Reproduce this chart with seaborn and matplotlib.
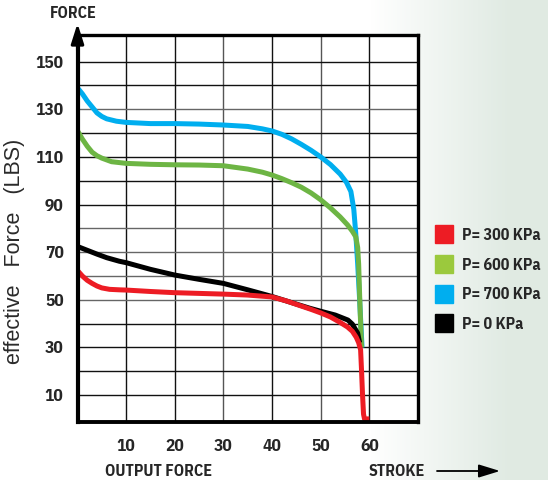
import numpy as np
import pandas as pd
import matplotlib
matplotlib.use("Agg")
import matplotlib.pyplot as plt
import seaborn as sns
from matplotlib.lines import Line2D

# ---------------- data ----------------
series_labels = ["P= 300 KPa", "P= 600 KPa", "P= 700 KPa", "P= 0 KPa"]
x_tick_values = [10, 20, 30, 40, 50, 60]
y_tick_values = [10, 30, 50, 70, 90, 110, 130, 150]

blue_x = [0, 1, 2, 3, 4, 5, 6, 8, 10, 15, 20, 25, 30, 35, 38, 40, 42, 44, 46, 48, 50, 52, 54, 55.3, 56.2, 56.8, 57.2, 57.6, 58.0, 58.3, 58.5]
blue_y = [139, 136.5, 133.5, 131, 128.5, 127, 126, 125, 124.5, 124, 124, 123.8, 123.4, 122.8, 121.8, 120.9, 119.5, 117.6, 115.3, 112.8, 110, 106.8, 102.8, 99.3, 95.5, 88, 78, 65, 50, 38, 30]

green_x = [0, 1, 2, 3, 4, 5, 7, 10, 15, 20, 25, 30, 35, 38, 40, 42, 44, 46, 48, 50, 52, 54, 55.5, 56.5, 57.2, 57.6, 57.8, 58.0, 58.2, 58.4]
green_y = [121, 117.5, 114.5, 112, 110.5, 109.5, 108, 107.3, 106.9, 106.7, 106.6, 106.3, 104.9, 103.6, 102.4, 100.9, 99.2, 97.3, 94.9, 92, 88.6, 84.8, 81.5, 78.8, 76.5, 72, 65, 52, 40, 30]

red_x = [0, 1, 2, 3, 4, 5, 6.6, 8.6, 10, 15, 20, 25, 30, 35, 40, 43, 45.7, 48, 50, 52, 54, 55.5, 56.5, 57.3, 57.8, 58.2, 58.4, 58.6, 58.8, 59.0, 60.0]
red_y = [62.3, 60, 58.2, 56.9, 55.8, 55, 54.4, 54.2, 54.1, 53.5, 53, 52.7, 52.4, 52, 51.2, 49.5, 47.6, 46, 44.5, 42.8, 40.5, 38.6, 36.8, 34.3, 32, 29, 20, 10, 2, 0, 0]

black_x = [0, 2, 4, 6, 8.6, 10, 15, 20, 25, 30, 35, 40, 45, 47.7, 50, 53, 55.6, 56.5, 57.6, 58.0]
black_y = [72.4, 70.8, 69.2, 67.7, 66.2, 65.6, 62.8, 60.4, 58.6, 56.9, 54.2, 51.4, 48.2, 46.5, 45.2, 43.6, 41.5, 39.8, 36, 32]

line_colors = {"P= 300 KPa": "#ED1C24", "P= 600 KPa": "#6DB544",
               "P= 700 KPa": "#00AEEF", "P= 0 KPa": "#000000"}
legend_colors = {"P= 300 KPa": "#ED1C24", "P= 600 KPa": "#9BC93D",
                 "P= 700 KPa": "#00AEEF", "P= 0 KPa": "#000000"}

# ---------------- style ----------------
sns.set_style("white")
COND = ["IBM Plex Sans Condensed", "Liberation Sans", "DejaVu Sans"]
plt.rcParams["font.family"] = COND

fig = plt.figure(figsize=(5.48, 4.80), dpi=100)

# background gradient (right side light greenish-grey)
bg = fig.add_axes([0, 0, 1, 1], zorder=-10)
w = 548
cols = np.ones((1, w, 3))
start = 370
for i in range(start, w):
    t = (i - start) / (w - start)
    c0 = np.array([1.0, 1.0, 1.0])
    c1 = np.array([0.88, 0.92, 0.89])
    cols[0, i] = c0 + (c1 - c0) * min(1.0, t * 1.3)
bg.imshow(cols, aspect="auto", extent=[0, 1, 0, 1])
bg.set_axis_off()

ax = fig.add_axes([77.5 / 548, 58 / 480, 340.5 / 548, 387 / 480], zorder=1)
ax.set_facecolor("white")

frames = {
    "P= 700 KPa": (blue_x, blue_y),
    "P= 600 KPa": (green_x, green_y),
    "P= 0 KPa": (black_x, black_y),
    "P= 300 KPa": (red_x, red_y),
}
for z, (lab, (xs, ys)) in enumerate(frames.items()):
    df = pd.DataFrame({"stroke": xs, "force": ys})
    sns.lineplot(data=df, x="stroke", y="force", ax=ax, sort=False, estimator=None,
                 color=line_colors[lab], linewidth=3.6, zorder=5 + z,
                 solid_capstyle="butt", solid_joinstyle="round")

ax.set_xlim(0, 70)
ax.set_ylim(-1.3, 161.2)

# grid
for xv in range(10, 70, 10):
    ax.axvline(xv, color="#111111" if xv not in (30, 50) else "#555555", lw=1.0, zorder=1)
for yv in range(10, 160, 10):
    ax.axhline(yv, color="#111111" if yv not in (50, 60, 70, 80, 130) else "#666666", lw=1.0, zorder=1)

ax.set_xticks(x_tick_values)
ax.set_xticklabels([str(v) for v in x_tick_values])
ax.set_yticks(y_tick_values)
ax.set_yticklabels([str(v) for v in y_tick_values])
ax.tick_params(axis="x", length=0, pad=12, labelsize=12.5)
ax.tick_params(axis="y", length=0, pad=10, labelsize=12.5)
for t in ax.get_xticklabels() + ax.get_yticklabels():
    t.set_fontweight("bold")
ax.set_xlabel("")
ax.set_ylabel("")

for side, lw in (("left", 3.0), ("bottom", 2.8), ("top", 2.4), ("right", 2.4)):
    ax.spines[side].set_visible(True)
    ax.spines[side].set_color("black")
    ax.spines[side].set_linewidth(lw)
    ax.spines[side].set_zorder(20)

# arrow on y-axis top
ax.annotate("", xy=(0, 1.03), xycoords="axes fraction", xytext=(0, 0.96),
            textcoords="axes fraction",
            arrowprops=dict(arrowstyle="-|>,head_length=1.2,head_width=0.38",
                            color="black", lw=2.2, shrinkA=0, shrinkB=0),
            annotation_clip=False, zorder=25)

fig.text(73 / 548, 1 - 14 / 480, "FORCE", ha="center", va="center",
         fontsize=11.5, fontweight="bold")
fig.text(158.7 / 548, 1 - 472 / 480, "OUTPUT FORCE", ha="center", va="center",
         fontsize=11.5, fontweight="bold")
fig.text(396.5 / 548, 1 - 472 / 480, "STROKE", ha="center", va="center",
         fontsize=11.5, fontweight="bold")
fig.add_artist(matplotlib.patches.FancyArrowPatch(
    (437 / 548, 1 - 471 / 480), (500 / 548, 1 - 471 / 480),
    transform=fig.transFigure, arrowstyle="-|>,head_length=1.3,head_width=0.4",
    mutation_scale=10, color="black", lw=1.3, shrinkA=0, shrinkB=0))

fig.text(15 / 548, 1 - 251 / 480, "effective   Force   (LBS)", rotation=90,
         ha="center", va="center", fontsize=15.5, color="#2a2a2a",
         family=["Liberation Sans", "DejaVu Sans"])

# legend
handles = [Line2D([], [], marker="s", linestyle="none", markersize=13.5,
                  markerfacecolor=legend_colors[l], markeredgecolor=legend_colors[l])
           for l in series_labels]
leg = fig.legend(handles, series_labels, loc="upper left",
                 bbox_to_anchor=(426 / 548, 1 - 220 / 480), frameon=False,
                 prop={"weight": "bold", "size": 11.5}, handlelength=1.2,
                 handletextpad=0.55, labelspacing=0.92, borderpad=0)

fig.savefig("out.png", dpi=100)
